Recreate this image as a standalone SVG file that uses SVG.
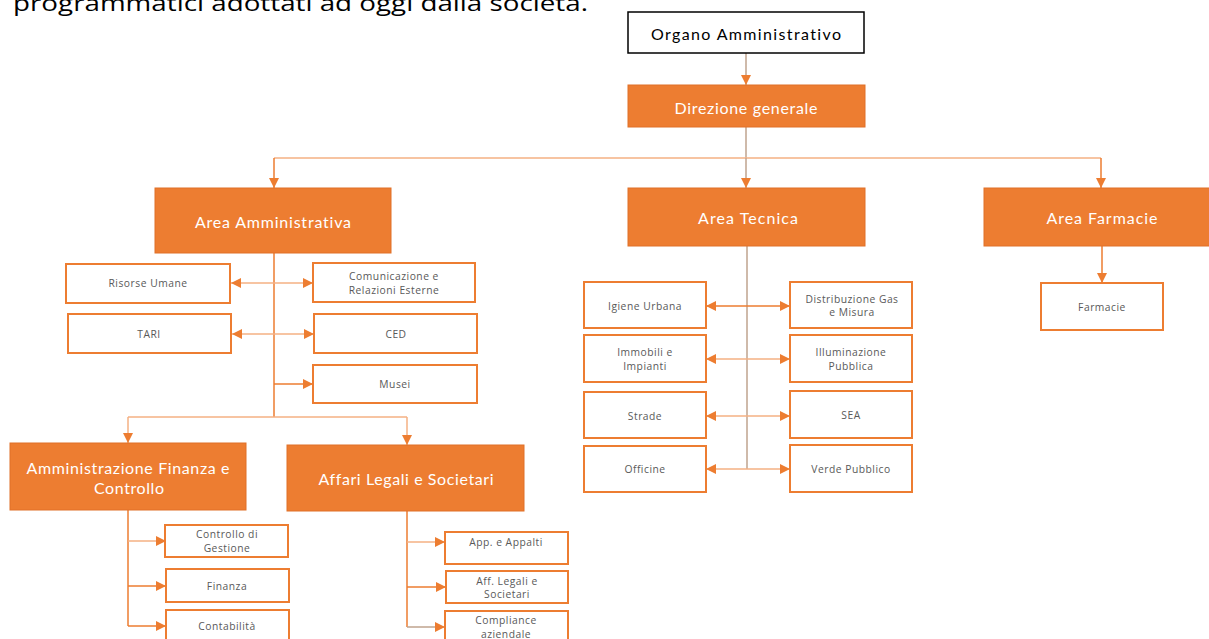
<svg xmlns="http://www.w3.org/2000/svg" width="1209" height="639" viewBox="0 0 1209 639">
<defs>
<style>
text{font-variant-ligatures:none}
.ob{fill:#ED7D31;stroke:#E07028;stroke-width:1}
.wb{fill:#fff;stroke:#ED7D31;stroke-width:2}
.kb{fill:#fff;stroke:#000;stroke-width:1.5}
.bt{font-family:Lato,"Liberation Sans",sans-serif;font-size:16px;fill:#fff;text-anchor:middle;dominant-baseline:central}
.kt{font-family:Lato,"Liberation Sans",sans-serif;font-size:16px;fill:#000;text-anchor:middle;dominant-baseline:central}
.st{font-family:"Open Sans","Liberation Sans",sans-serif;font-size:10.3px;letter-spacing:0.5px;fill:#595959;text-anchor:middle;dominant-baseline:central}
.c{fill:none;stroke:#ED7D31;stroke-width:1.5}
.t{fill:none;stroke:#BFA38E;stroke-width:1.5}
.l{fill:none;stroke:#F4B183;stroke-width:1.5}
.hd{font-family:"Open Sans","Liberation Sans",sans-serif;font-size:21px;fill:#000}
</style>
<marker id="a" markerUnits="userSpaceOnUse" markerWidth="10" markerHeight="10" viewBox="0 0 10 10" refX="10" refY="5" orient="auto-start-reverse">
<path d="M0,0 L10,5 L0,10 Z" fill="#ED7D31"/>
</marker>
</defs>
<rect width="1209" height="639" fill="#fff"/>
<text class="hd" x="13" y="11" textLength="575" lengthAdjust="spacingAndGlyphs">programmatici adottati ad oggi dalla società.</text>

<g id="connectors">
<path class="t" d="M746,53 V85" marker-end="url(#a)"/>
<path class="t" d="M746,127 V158"/>
<path class="l" d="M274,158 H1101"/>
<path class="c" d="M274,158 V188" marker-end="url(#a)"/>
<path class="t" d="M746,158 V188" marker-end="url(#a)"/>
<path class="c" d="M1101,158 V188" marker-end="url(#a)"/>
<path class="c" d="M274,253 V417"/>
<path class="l" d="M231,283 H313" marker-start="url(#a)" marker-end="url(#a)"/>
<path class="l" d="M232,334 H314" marker-start="url(#a)" marker-end="url(#a)"/>
<path class="c" d="M274,384 H313" marker-end="url(#a)"/>
<path class="l" d="M128,417 H407"/>
<path class="l" d="M128,417 V443" marker-end="url(#a)"/>
<path class="l" d="M407,417 V445" marker-end="url(#a)"/>
<path class="c" d="M128,510 V626"/>
<path class="l" d="M128,541 H166" marker-end="url(#a)"/>
<path class="c" d="M128,586 H166" marker-end="url(#a)"/>
<path class="c" d="M128,626 H166" marker-end="url(#a)"/>
<path class="c" d="M407,511 V627"/>
<path class="l" d="M407,542 H445" marker-end="url(#a)"/>
<path class="c" d="M407,587 H446" marker-end="url(#a)"/>
<path class="t" d="M407,627 H445" marker-end="url(#a)"/>
<path class="t" d="M747,246 V469"/>
<path class="c" d="M706,306 H790" marker-start="url(#a)" marker-end="url(#a)"/>
<path class="l" d="M706,359 H790" marker-start="url(#a)" marker-end="url(#a)"/>
<path class="l" d="M706,416 H790" marker-start="url(#a)" marker-end="url(#a)"/>
<path class="l" d="M706,469 H790" marker-start="url(#a)" marker-end="url(#a)"/>
<path class="c" d="M1102,246 V283" marker-end="url(#a)"/>
</g>

<g id="organo"><rect class="kb" x="628" y="12" width="236" height="41"/><text class="kt" x="746" y="33" textLength="190">Organo Amministrativo</text></g>
<g id="direzione"><rect class="ob" x="628" y="85" width="237" height="42"/><text class="bt" x="746" y="107" textLength="143">Direzione generale</text></g>
<g id="area-amm"><rect class="ob" x="155" y="188" width="236" height="65"/><text class="bt" x="273" y="221" textLength="156">Area Amministrativa</text></g>
<g id="area-tec"><rect class="ob" x="628" y="188" width="237" height="58"/><text class="bt" x="748" y="217" textLength="100">Area Tecnica</text></g>
<g id="area-farm"><rect class="ob" x="984" y="188" width="226" height="58"/><text class="bt" x="1102" y="217" textLength="111">Area Farmacie</text></g>

<g id="risorse"><rect class="wb" x="66" y="264" width="164" height="39"/><text class="st" x="148" y="283">Risorse Umane</text></g>
<g id="comunicazione"><rect class="wb" x="313" y="263" width="162" height="39"/><text class="st" x="394" y="276">Comunicazione e</text><text class="st" x="394" y="290">Relazioni Esterne</text></g>
<g id="tari"><rect class="wb" x="68" y="314" width="163" height="39"/><text class="st" x="149" y="334">TARI</text></g>
<g id="ced"><rect class="wb" x="314" y="314" width="163" height="39"/><text class="st" x="396" y="334">CED</text></g>
<g id="musei"><rect class="wb" x="313" y="365" width="164" height="38"/><text class="st" x="395" y="384">Musei</text></g>

<g id="amm-fin"><rect class="ob" x="10" y="443" width="236" height="67"/><text class="bt" x="128" y="467" textLength="203">Amministrazione Finanza e</text><text class="bt" x="129" y="487" textLength="70">Controllo</text></g>
<g id="affari"><rect class="ob" x="287" y="445" width="237" height="66"/><text class="bt" x="406" y="478" textLength="175">Affari Legali e Societari</text></g>

<g id="controllo"><rect class="wb" x="165" y="525" width="123" height="32"/><text class="st" x="227" y="534">Controllo di</text><text class="st" x="227" y="548">Gestione</text></g>
<g id="finanza"><rect class="wb" x="166" y="569" width="123" height="33"/><text class="st" x="227" y="586">Finanza</text></g>
<g id="contabilita"><rect class="wb" x="166" y="610" width="123" height="34"/><text class="st" x="227" y="626">Contabilità</text></g>
<g id="app"><rect class="wb" x="445" y="532" width="123" height="32"/><text class="st" x="506" y="542">App. e Appalti</text></g>
<g id="aff"><rect class="wb" x="446" y="571" width="122" height="32"/><text class="st" x="507" y="581">Aff. Legali e</text><text class="st" x="507" y="594">Societari</text></g>
<g id="compliance"><rect class="wb" x="445" y="611" width="123" height="33"/><text class="st" x="506" y="620">Compliance</text><text class="st" x="506" y="634">aziendale</text></g>

<g id="igiene"><rect class="wb" x="584" y="282" width="122" height="46"/><text class="st" x="645" y="306">Igiene Urbana</text></g>
<g id="gas"><rect class="wb" x="790" y="282" width="122" height="46"/><text class="st" x="852" y="299">Distribuzione Gas</text><text class="st" x="852" y="312">e Misura</text></g>
<g id="immobili"><rect class="wb" x="584" y="335" width="122" height="47"/><text class="st" x="645" y="352">Immobili e</text><text class="st" x="645" y="366">Impianti</text></g>
<g id="illuminazione"><rect class="wb" x="790" y="335" width="122" height="47"/><text class="st" x="851" y="352">Illuminazione</text><text class="st" x="851" y="366">Pubblica</text></g>
<g id="strade"><rect class="wb" x="584" y="392" width="122" height="46"/><text class="st" x="645" y="416">Strade</text></g>
<g id="sea"><rect class="wb" x="790" y="391" width="122" height="47"/><text class="st" x="851" y="415">SEA</text></g>
<g id="officine"><rect class="wb" x="584" y="446" width="122" height="46"/><text class="st" x="645" y="469">Officine</text></g>
<g id="verde"><rect class="wb" x="790" y="445" width="122" height="47"/><text class="st" x="851" y="469">Verde Pubblico</text></g>
<g id="farmacie"><rect class="wb" x="1041" y="283" width="122" height="47"/><text class="st" x="1102" y="307">Farmacie</text></g>
</svg>
